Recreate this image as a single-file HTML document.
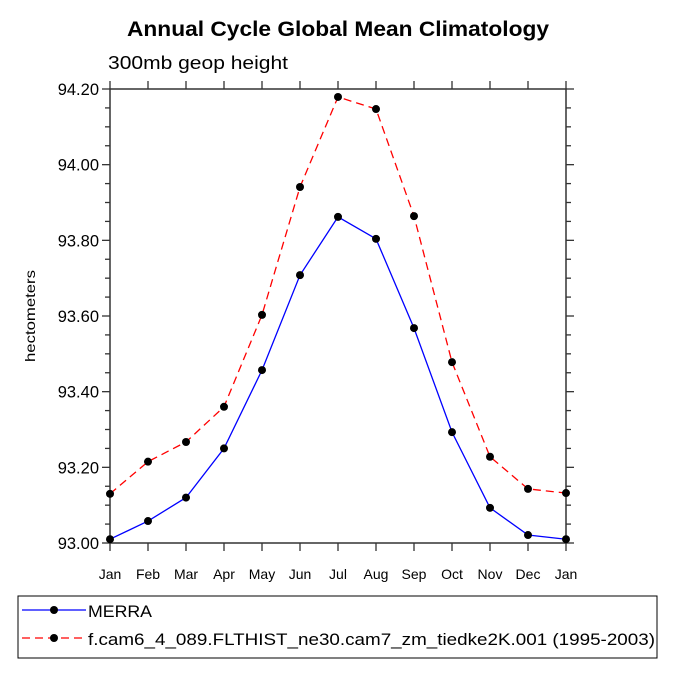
<!DOCTYPE html>
<html><head><meta charset="utf-8"><style>
body{margin:0;background:#fff;}
svg{display:block;font-family:"Liberation Sans",sans-serif;}
</style></head><body>
<svg id="chart" width="675" height="675" viewBox="0 0 675 675" xmlns="http://www.w3.org/2000/svg">
<rect width="675" height="675" fill="#fff"/>
<text x="127" y="36" font-size="21" font-weight="bold" textLength="422" lengthAdjust="spacingAndGlyphs">Annual Cycle Global Mean Climatology</text>
<text x="108" y="69" font-size="18" textLength="180" lengthAdjust="spacingAndGlyphs">300mb geop height</text>
<text transform="translate(35,316) rotate(-90)" text-anchor="middle" font-size="14" textLength="92" lengthAdjust="spacingAndGlyphs">hectometers</text>
<g id="axes"></g>
<g id="series"></g>
<rect x="18" y="596" width="639" height="62" fill="none" stroke="#000" stroke-width="1"/>
<g>
<line x1="22" y1="610" x2="86" y2="610" stroke="#0000ff" stroke-width="1.3"/>
<circle cx="54" cy="610" r="4" fill="#000"/>
<text x="88" y="617" font-size="17" textLength="64" lengthAdjust="spacingAndGlyphs">MERRA</text>
</g>
<g>
<line x1="22" y1="638" x2="86" y2="638" stroke="#ff0000" stroke-width="1.3" stroke-dasharray="8,5"/>
<circle cx="54" cy="638" r="4" fill="#000"/>
<text x="88" y="645" font-size="17" textLength="567" lengthAdjust="spacingAndGlyphs">f.cam6_4_089.FLTHIST_ne30.cam7_zm_tiedke2K.001 (1995-2003)</text>
</g>
</svg>
<script>
const months=["Jan","Feb","Mar","Apr","May","Jun","Jul","Aug","Sep","Oct","Nov","Dec","Jan"];
const merra=[93.01,93.058,93.12,93.25,93.457,93.708,93.862,93.804,93.568,93.293,93.093,93.021,93.01];
const cam=[93.13,93.215,93.267,93.36,93.603,93.941,94.179,94.147,93.864,93.478,93.228,93.143,93.132];
const yTicks=[93.0,93.2,93.4,93.6,93.8,94.0,94.2];
const yTickLabels=["93.00","93.20","93.40","93.60","93.80","94.00","94.20"];
const NS="http://www.w3.org/2000/svg";
const L=110,R=566,T=89,B=543,ymin=93.0,ymax=94.2;
function xs(i){return L+(R-L)*i/(months.length-1);}
function ys(v){return B-(v-ymin)/(ymax-ymin)*(B-T);}
function mk(tag,attrs,parent){const e=document.createElementNS(NS,tag);for(const k in attrs)e.setAttribute(k,attrs[k]);parent.appendChild(e);return e;}
const ax=document.getElementById('axes');
const frame=mk('rect',{x:L,y:T,width:R-L,height:B-T,fill:'none',stroke:'#333','stroke-width':1.5},ax);


months.forEach((m,i)=>{
  const x=xs(i);
  mk('line',{x1:x,y1:B,x2:x,y2:B+8,stroke:'#333','stroke-width':1.3},ax);
  mk('line',{x1:x,y1:T,x2:x,y2:T-8,stroke:'#333','stroke-width':1.3},ax);
  const t=mk('text',{x:x,y:579,'text-anchor':'middle','font-size':14},ax);
  t.textContent=m;
  
  
});
yTicks.forEach((v,i)=>{
  const y=ys(v);
  mk('line',{x1:L,y1:y,x2:L-8,y2:y,stroke:'#333','stroke-width':1.3},ax);
  mk('line',{x1:R,y1:y,x2:R+8,y2:y,stroke:'#333','stroke-width':1.3},ax);
  if(i<yTicks.length-1){for(let k=1;k<4;k++){const yy=ys(v+0.05*k);
    mk('line',{x1:L,y1:yy,x2:L-5,y2:yy,stroke:'#333','stroke-width':1.3},ax);
    mk('line',{x1:R,y1:yy,x2:R+5,y2:yy,stroke:'#333','stroke-width':1.3},ax);}}
  const t=mk('text',{x:99,y:y+6,'text-anchor':'end','font-size':16.5},ax);
  t.textContent=yTickLabels[i];
  
  
});
const sg=document.getElementById('series');
function draw(data,color,dash,name){
  const g=mk('g',{},sg);
  
  
  const p=mk('polyline',{points:data.map((v,i)=>xs(i)+','+ys(v)).join(' '),fill:'none',stroke:color,'stroke-width':1.3},g);
  if(dash)p.setAttribute('stroke-dasharray',dash);
  data.forEach((v,i)=>{const c=mk('circle',{cx:xs(i),cy:ys(v),r:4,fill:'#000'},g);
    
    });
}
draw(merra,'#0000ff',null,'merra-series');
draw(cam,'#ff0000','8,5','cam6-series');
</script>
</body></html>
